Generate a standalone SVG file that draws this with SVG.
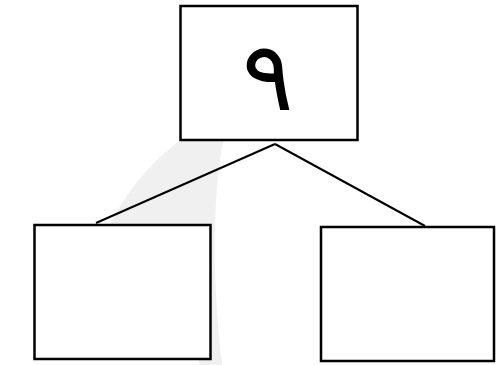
<svg xmlns="http://www.w3.org/2000/svg" width="496" height="365" viewBox="0 0 496 365">
<style>
.box{fill:#fff;stroke:#000;stroke-width:2.5}
.edge{stroke:#000;stroke-width:2;fill:none}
.wm{fill:#f0f0f0;stroke:none}
.num{font-family:"DejaVu Sans ExtraLight","DejaVu Sans",sans-serif;font-weight:200;font-size:96px;fill:#000}
</style>
<rect width="496" height="365" fill="#fff"/>
<path class="wm" d="M108 228 C130 185 165 140 222 118 L226 126 C214 180 210 260 222 365 L200 365 C185 320 155 265 108 228 Z"/>
<g id="connectors">
<line class="edge" x1="275" y1="144" x2="96" y2="223"/>
<line class="edge" x1="275" y1="144" x2="425" y2="226"/>
</g>
<g id="node-top">
<rect class="box" x="180.5" y="6" width="177" height="134"/>
<text class="num" x="268" y="110" text-anchor="middle">٩</text>
</g>
<g id="node-left">
<rect class="box" x="34.5" y="225" width="176" height="134"/>
</g>
<g id="node-right">
<rect class="box" x="321" y="227" width="173" height="134"/>
</g>
</svg>
